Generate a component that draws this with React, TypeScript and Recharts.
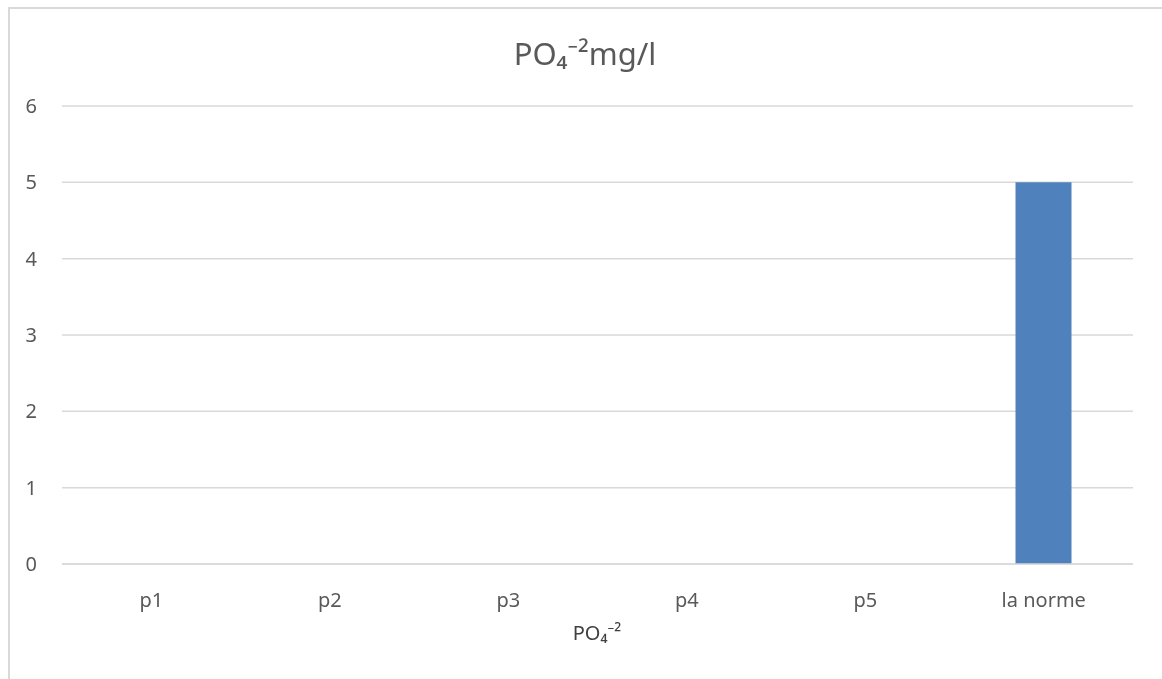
import { BarChart, Bar, XAxis, YAxis, CartesianGrid } from 'recharts';

const categories = ['p1', 'p2', 'p3', 'p4', 'p5', 'la norme'];
const values = [0, 0, 0, 0, 0, 5];
const yTicks = [0, 1, 2, 3, 4, 5, 6];

const chartTitle = 'PO\u2084\u207B\u00B2mg/l';
const xTitle = 'PO\u2084\u207B\u00B2';

const data = categories.map((name, i) => ({ name, value: values[i] }));

const font = '"Noto Sans", "Open Sans", sans-serif';
const textColor = '#595959';

export default function App() {
  return (
    <div
      style={{
        position: 'relative',
        width: 1154,
        height: 660,
        overflow: 'hidden',
        fontFamily: font,
      }}
    >
      {/* chart frame, only left and top edges show in the window */}
      <div
        style={{
          position: 'fixed',
          left: 8,
          top: 7,
          width: 1152,
          height: 672,
          borderLeft: '2px solid #d9d9d9',
          borderTop: '2px solid #d9d9d9',
        }}
      />
      <div
        style={{
          position: 'absolute',
          left: 0,
          width: 1154,
          top: 24,
          textAlign: 'center',
          fontSize: 31,
          color: textColor,
        }}
      >
        {chartTitle}
      </div>
      <div
        style={{
          position: 'absolute',
          left: 589 - 100,
          width: 200,
          top: 611,
          textAlign: 'center',
          fontSize: 20,
          color: '#404040',
        }}
      >
        {xTitle}
      </div>
      <div style={{ position: 'absolute', left: 0, top: 0 }}>
        <BarChart
          width={1154}
          height={660}
          data={data}
          margin={{ top: 98, right: 29, left: 0, bottom: 0 }}
        >
          <CartesianGrid vertical={false} stroke='#d9d9d9' strokeWidth={1.5} />
          <XAxis
            dataKey='name'
            height={104}
            axisLine={{ stroke: '#d9d9d9', strokeWidth: 1.5 }}
            tickLine={false}
            tickSize={0}
            tickMargin={29}
            tick={{ fill: textColor, fontSize: 20, fontFamily: font }}
            interval={0}
          />
          <YAxis
            width={54}
            domain={[0, 6]}
            ticks={yTicks}
            axisLine={false}
            tickLine={false}
            tickSize={0}
            tickMargin={25}
            tick={{ fill: textColor, fontSize: 20, fontFamily: font }}
          />
          <Bar
            dataKey='value'
            fill='#4f81bd'
            barSize={56}
            isAnimationActive={false}
          />
        </BarChart>
      </div>
    </div>
  );
}
